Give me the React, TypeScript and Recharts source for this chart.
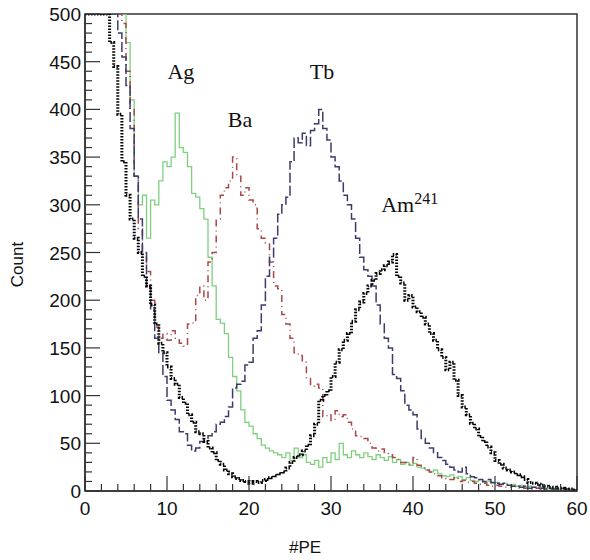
import React from 'react';
import { LineChart, Line, XAxis, YAxis, ReferenceArea, ReferenceDot } from 'recharts';

const BIN_WIDTH = 0.5;

const ag = [
  500, 500, 500, 500, 500, 500, 500, 500, 500, 500,
  470, 410, 330, 300, 310, 265, 305, 300, 325, 345,
  340, 350, 396, 360, 355, 340, 312, 308, 296, 285,
  245, 215, 180, 176, 165, 140, 120, 105, 85, 72,
  68, 60, 55, 48, 45, 42, 40, 38, 35, 40,
  32, 45, 35, 38, 30, 28, 32, 25, 35, 30,
  40, 33, 50, 38, 35, 42, 38, 35, 40, 36,
  33, 38, 35, 32, 36, 30, 33, 28, 30, 27,
  29, 25, 24, 22, 20, 22, 18, 16, 15, 17,
  14, 15, 12, 14, 11, 10, 12, 9, 10, 8,
  9, 7, 8, 6, 7, 5, 6, 4, 5, 4,
  3, 4, 3, 2, 3, 2, 2, 1, 2, 1,
];

const ba = [
  500, 500, 500, 500, 500, 500, 500, 500, 500, 490,
  440, 400, 330, 275, 245, 230, 200, 172, 160, 165,
  158, 168, 160, 155, 152, 175, 176, 205, 215, 200,
  240, 250, 285, 310, 318, 325, 350, 330, 310, 318,
  305, 300, 275, 265, 260, 240, 215, 212, 185, 175,
  160, 145, 142, 135, 118, 110, 112, 108, 78, 80,
  74, 84, 78, 80, 72, 65, 58, 57, 55, 50,
  45, 42, 44, 40, 38, 35, 33, 30, 30, 28,
  35, 27, 24, 22, 20, 18, 16, 14, 13, 12,
  14, 10, 11, 9, 10, 8, 7, 8, 6, 5,
  6, 5, 4, 4, 5, 3, 4, 3, 3, 2,
  3, 2, 2, 2, 1, 2, 1, 1, 1, 1,
];

const tb = [
  500, 500, 500, 500, 500, 500, 500, 500, 480, 455,
  425, 380, 330, 285, 250, 215, 190, 160, 145, 120,
  95, 85, 75, 62, 60, 48, 42, 45, 52, 55,
  58, 62, 70, 72, 78, 88, 108, 112, 115, 132,
  135, 160, 168, 195, 225, 245, 265, 290, 300, 308,
  345, 370, 365, 375, 362, 378, 385, 400, 380, 368,
  350, 340, 325, 310, 300, 285, 265, 245, 232, 225,
  215, 195, 175, 160, 150, 122, 118, 105, 90, 85,
  80, 65, 55, 50, 45, 40, 35, 32, 28, 25,
  22, 20, 25, 18, 15, 14, 12, 10, 12, 9,
  8, 7, 8, 6, 5, 5, 4, 5, 3, 4,
  3, 3, 2, 3, 2, 2, 3, 2, 1, 1,
];

const am = [
  500, 500, 500, 500, 500, 500, 470, 445, 395, 345,
  310, 285, 265, 250, 225, 215, 195, 175, 155, 145,
  130, 118, 112, 98, 92, 80, 72, 62, 60, 52,
  45, 40, 32, 28, 22, 18, 15, 13, 11, 10,
  8, 10, 9, 11, 12, 14, 16, 18, 20, 24,
  30, 35, 38, 42, 48, 58, 70, 95, 100, 105,
  120, 135, 148, 158, 165, 178, 190, 198, 207, 215,
  221, 228, 232, 236, 240, 248, 225, 218, 200, 205,
  193, 188, 182, 175, 165, 158, 148, 140, 127, 135,
  116, 100, 88, 80, 71, 65, 57, 52, 46, 40,
  32, 28, 24, 22, 20, 17, 15, 12, 9, 8,
  7, 6, 5, 4, 4, 3, 3, 2, 2, 1,
];

const xTicks = [0, 2, 4, 6, 8, 10, 12, 14, 16, 18, 20, 22, 24, 26, 28, 30, 32, 34, 36, 38, 40, 42, 44, 46, 48, 50, 52, 54, 56, 58, 60];
const yTicks = [0, 10, 20, 30, 40, 50, 60, 70, 80, 90, 100, 110, 120, 130, 140, 150, 160, 170, 180, 190, 200, 210, 220, 230, 240, 250, 260, 270, 280, 290, 300, 310, 320, 330, 340, 350, 360, 370, 380, 390, 400, 410, 420, 430, 440, 450, 460, 470, 480, 490, 500];

const rows = ag.map((_, i) => ({ x: i * BIN_WIDTH, ag: ag[i], ba: ba[i], tb: tb[i], am: am[i] }));
rows.push({ x: ag.length * BIN_WIDTH, ag: ag[ag.length - 1], ba: ba[ba.length - 1], tb: tb[tb.length - 1], am: am[am.length - 1] });

const AXIS = '#333';
const TICK_FONT = { fontFamily: 'Liberation Sans, Arial, sans-serif', fontSize: 19, fill: '#111' };

const YTick = (props: any) => {
  const { x, y, payload } = props;
  const major = payload.value % 50 === 0;
  return (
    <g>
      <line x1={x} x2={x + (major ? 15 : 7)} y1={y} y2={y} stroke={AXIS} strokeWidth={1.2} />
      {major && (
        <text x={x - 4} y={y + 7} textAnchor="end" {...TICK_FONT}>{payload.value}</text>
      )}
    </g>
  );
};

const XTick = (props: any) => {
  const { x, y, payload } = props;
  const major = payload.value % 10 === 0;
  return (
    <g>
      <line x1={x} x2={x} y1={y} y2={y - (major ? 15 : 7)} stroke={AXIS} strokeWidth={1.2} />
      {major && (
        <text x={x} y={y + 24} textAnchor="middle" {...TICK_FONT}>{payload.value}</text>
      )}
    </g>
  );
};

const serif = { fontFamily: 'Liberation Serif, Times New Roman, serif', fontSize: 22, fill: '#111' };

const simpleLabel = (text: string) => (props: any) => {
  const { viewBox } = props;
  return (
    <text x={viewBox.x + viewBox.width / 2} y={viewBox.y + viewBox.height / 2} dy={7} textAnchor="middle" {...serif}>{text}</text>
  );
};

const amLabel = (props: any) => {
  const { viewBox } = props;
  return (
    <text x={viewBox.x + viewBox.width / 2} y={viewBox.y + viewBox.height / 2} dy={7} textAnchor="middle" {...serif}>
      Am<tspan fontSize={16} dy={-8}>241</tspan>
    </text>
  );
};

const yTitle = (props: any) => {
  const { viewBox } = props;
  const cx = viewBox.x + 17;
  const cy = viewBox.y + viewBox.height / 2 + 12;
  return (
    <text x={cx} y={cy} transform={`rotate(-90 ${cx} ${cy})`} textAnchor="middle" dy={6} fontFamily="Liberation Sans, Arial, sans-serif" fontSize={17} fill="#111">Count</text>
  );
};

const xTitle = (props: any) => {
  const { viewBox } = props;
  const cx = viewBox.x + viewBox.width / 2 - 26;
  return (
    <text x={cx} y={viewBox.y + 62} textAnchor="middle" fontFamily="Liberation Sans, Arial, sans-serif" fontSize={17} fill="#111">#PE</text>
  );
};

export default function App() {
  return (
    <div style={{ position: 'absolute', left: 0, top: 0, width: 590, height: 560, background: '#fff' }}>
      <LineChart width={590} height={560} data={rows} margin={{ top: 14, right: 13, bottom: 0, left: 0 }}>
        <XAxis
          dataKey="x"
          type="number"
          domain={[0, 60]}
          ticks={xTicks}
          interval={0}
          height={69}
          tickSize={0}
          tickMargin={0}
          tickLine={false}
          tick={<XTick />}
          axisLine={{ stroke: AXIS, strokeWidth: 1.5 }}
          allowDataOverflow
          label={xTitle}
        />
        <YAxis
          type="number"
          domain={[0, 500]}
          ticks={yTicks}
          interval={0}
          width={85}
          tickSize={0}
          tickMargin={0}
          tickLine={false}
          tick={<YTick />}
          axisLine={{ stroke: AXIS, strokeWidth: 1.5 }}
          allowDataOverflow
          label={yTitle}
        />
        <ReferenceArea x1={0} x2={60} y1={0} y2={500} fill="none" stroke={AXIS} strokeWidth={1.5} />
        <Line dataKey="ag" type="stepAfter" stroke="#7fcf7f" strokeWidth={1.3} dot={false} isAnimationActive={false} />
        <Line dataKey="ba" type="stepAfter" stroke="#a84848" strokeWidth={1.5} strokeDasharray="7 4 1 4" dot={false} isAnimationActive={false} />
        <Line dataKey="tb" type="stepAfter" stroke="#3c3c6c" strokeWidth={1.5} strokeDasharray="10 3" dot={false} isAnimationActive={false} />
        <Line dataKey="am" type="stepAfter" stroke="#000" strokeWidth={3} strokeDasharray="1.5 1.5" dot={false} isAnimationActive={false} />
        <ReferenceDot x={11.7} y={439} r={0} fill="none" stroke="none" label={simpleLabel('Ag')} />
        <ReferenceDot x={18.9} y={389} r={0} fill="none" stroke="none" label={simpleLabel('Ba')} />
        <ReferenceDot x={28.9} y={439} r={0} fill="none" stroke="none" label={simpleLabel('Tb')} />
        <ReferenceDot x={39.6} y={300} r={0} fill="none" stroke="none" label={amLabel} />
      </LineChart>
    </div>
  );
}
